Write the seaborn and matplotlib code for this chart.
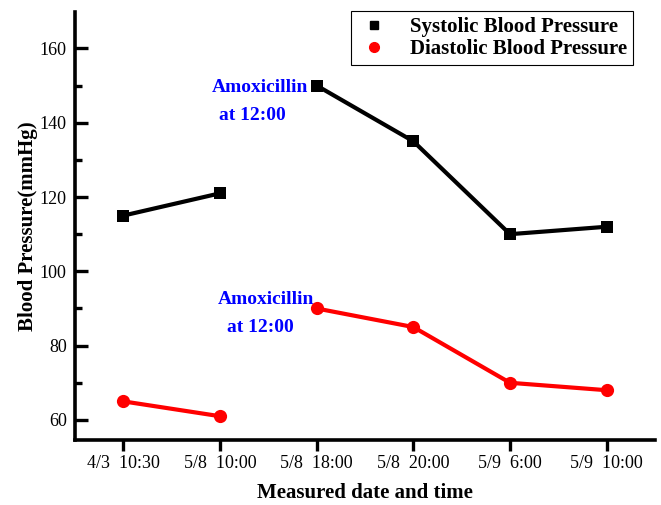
import numpy as np
import pandas as pd
import matplotlib
matplotlib.use("Agg")
import matplotlib.pyplot as plt
from matplotlib.lines import Line2D
from matplotlib.ticker import MultipleLocator
import seaborn as sns

# ---- data ----
time_labels = ["4/3  10:30", "5/8  10:00", "5/8  18:00", "5/8  20:00", "5/9  6:00", "5/9  10:00"]
systolic = [115, 121, 150, 135, 110, 112]
diastolic = [65, 61, 90, 85, 70, 68]
segment = [0, 0, 1, 1, 1, 1]   # line is broken between 5/8 10:00 and 5/8 18:00
annotation_lines = ["Amoxicillin", "at 12:00"]

sns.set_theme(style="white")
plt.rcParams["font.family"] = ["Liberation Serif", "DejaVu Serif"]
plt.rcParams["text.color"] = "black"
plt.rcParams["axes.labelcolor"] = "black"
plt.rcParams["xtick.color"] = "black"
plt.rcParams["ytick.color"] = "black"

pos = np.arange(len(time_labels))
df = pd.DataFrame({
    "pos": np.concatenate([pos, pos]),
    "value": systolic + diastolic,
    "segment": segment + segment,
    "series": ["Systolic Blood Pressure"] * len(pos) + ["Diastolic Blood Pressure"] * len(pos),
})

fig = plt.figure(figsize=(6.61, 5.05), dpi=100)
ax = fig.add_axes([75/661, 1 - 440/505, 580/661, 428/505])

sns.lineplot(data=df[df.series == "Systolic Blood Pressure"], x="pos", y="value",
             units="segment", estimator=None, color="black", marker="s",
             markersize=8.5, markeredgewidth=0, linewidth=3, ax=ax, legend=False)
sns.lineplot(data=df[df.series == "Diastolic Blood Pressure"], x="pos", y="value",
             units="segment", estimator=None, color="red", marker="o",
             markersize=9.5, markeredgewidth=0, linewidth=3, ax=ax, legend=False)

ax.set_xlim(-0.5, 5.5)
ax.set_ylim(54.6, 169.8)
ax.set_xticks(pos)
ax.set_xticklabels(time_labels, fontsize=13)
ax.yaxis.set_major_locator(MultipleLocator(20))
ax.yaxis.set_minor_locator(MultipleLocator(10))
ax.tick_params(axis="y", which="major", direction="in", length=9, width=2.4,
               labelsize=13, pad=6, left=True, colors="black")
ax.tick_params(axis="y", which="minor", direction="in", length=5, width=2.4, left=True)
ax.tick_params(axis="x", which="major", direction="out", length=8, width=2.4,
               labelsize=13, pad=3, bottom=True, colors="black")

for s in ["top", "right"]:
    ax.spines[s].set_visible(False)
for s in ["left", "bottom"]:
    ax.spines[s].set_linewidth(2.6)
    ax.spines[s].set_color("black")

ax.set_xlabel("Measured date and time", fontsize=15, fontweight="bold", labelpad=8)
ax.set_ylabel("Blood Pressure(mmHg)", fontsize=15, fontweight="bold", labelpad=1)

ann_style = dict(color="blue", fontsize=14, fontweight="bold", ha="center", va="center")
ax.text(1.411, 149.5, annotation_lines[0], **ann_style)
ax.text(1.338, 142.0, annotation_lines[1], **ann_style)
ax.text(1.473, 92.3, annotation_lines[0], **ann_style)
ax.text(1.421, 85.0, annotation_lines[1], **ann_style)

handles = [
    Line2D([], [], color="black", marker="s", linestyle="none", markersize=6),
    Line2D([], [], color="red", marker="o", linestyle="none", markersize=7),
]
leg = ax.legend(handles, ["Systolic Blood Pressure", "Diastolic Blood Pressure"],
                loc="upper right", bbox_to_anchor=(558/580, 1.002), borderaxespad=0,
                fancybox=False, edgecolor="black", framealpha=1,
                prop={"family": ["Liberation Serif"], "weight": "bold", "size": 15},
                handlelength=1.6, handletextpad=0.9, labelspacing=0.08, borderpad=0.3)
leg.get_frame().set_linewidth(0.8)

fig.savefig("out.png", dpi=100)
